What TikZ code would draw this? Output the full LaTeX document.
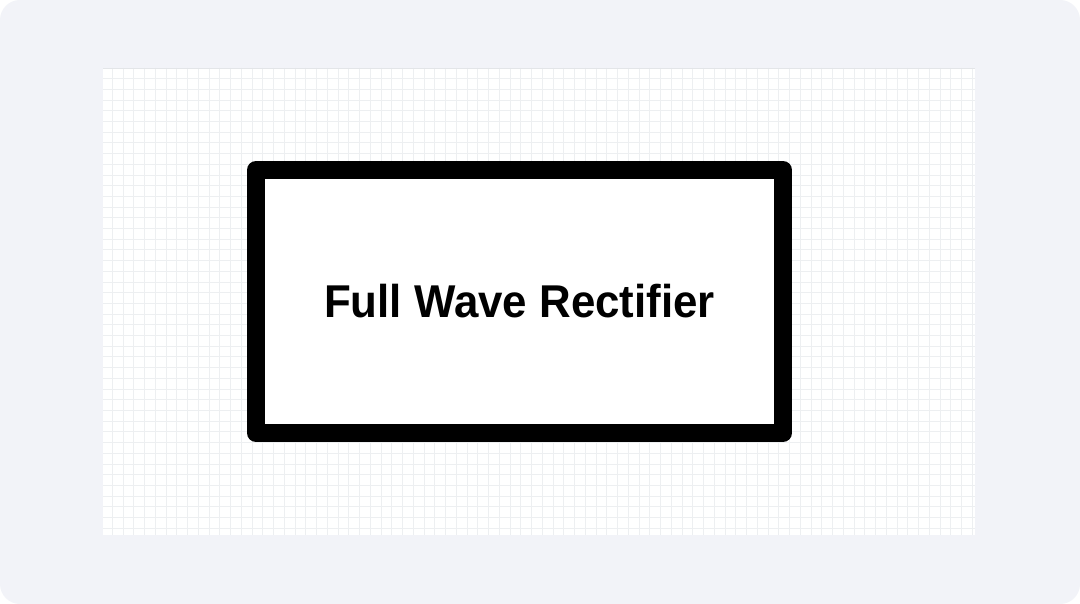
\documentclass[tikz,border=0pt]{standalone}
\usepackage{fontspec}
\setmainfont{Liberation Sans}[FakeStretch=0.953]
\definecolor{pagebg}{HTML}{F2F3F8}
\definecolor{gridln}{HTML}{EDEFF1}
\definecolor{panelln}{HTML}{E3E5E8}

\begin{document}
\begin{tikzpicture}[x=1pt, y=-1pt,
		blockbox/.style={draw=black, line width=18pt, line join=round, fill=white,
			minimum width=527pt, minimum height=263pt, inner sep=0pt,
			font=\bfseries\fontsize{46}{50}\selectfont}]
			\useasboundingbox (0,0) rectangle (1080,604);
			\fill[white] (0,0) rectangle (1080,604);
			\fill[pagebg, rounded corners=20pt] (0,0) rectangle (1080,604);

			% grid panel
			\fill[white] (103,68) rectangle (975,535);
			\begin{scope}
				\clip (103,68) rectangle (975,535);
				\foreach \gx in {0,...,81}
				{	\draw[gridln, line width=0.8pt] (112.3+10.75*\gx,68) -- (112.3+10.75*\gx,535);
				}
				\foreach \gy in {1,...,44}
				{	\draw[gridln, line width=0.8pt] (103,68+10.7*\gy) -- (975,68+10.7*\gy);
				}
			\end{scope}
			\draw[panelln, line width=0.8pt] (103,68.4) -- (975,68.4);

			\node[blockbox] (rect) at (519.5,301.5) {Full Wave Rectifier};
		\end{tikzpicture}
\end{document}
